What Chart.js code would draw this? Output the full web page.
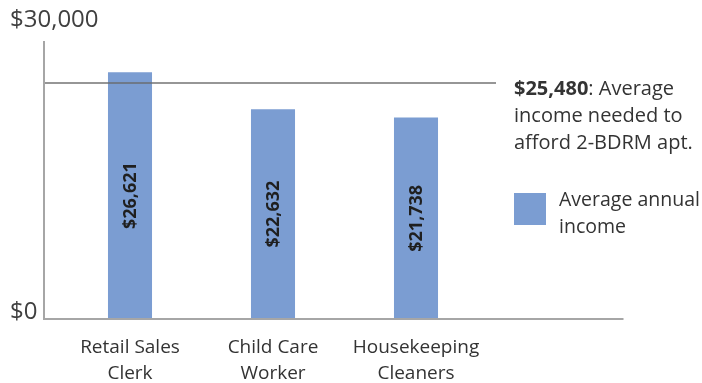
<!DOCTYPE html>
<html>
<head>
<meta charset="utf-8">
<script src="https://cdn.jsdelivr.net/npm/chart.js@4.4.0/dist/chart.umd.min.js"></script>
<style>
  html, body { margin: 0; padding: 0; background: #fff; }
  #wrap { width: 702px; height: 383px; }
</style>
</head>
<body>
<div id="wrap"><canvas id="income_chart"></canvas></div>
<script>
const categories = [["Retail Sales", "Clerk"], ["Child Care", "Worker"], ["Housekeeping", "Cleaners"], ""];
const incomes = [26621, 22632, 21738, null];
const barLabels = ["$26,621", "$22,632", "$21,738"];
const yTickValues = [0, 30000];
const yTickLabels = ["$0", "$30,000"];
const neededIncome = 25480;
const neededLabel = "$25,480";
const neededText = [": Average", "income needed to", "afford 2-BDRM apt."];
const seriesName = ["Average annual", "income"];

const FONT = "'Open Sans', sans-serif";
const BAR_COLOR = "#7b9dd2";
const TEXT = "#333333";

const decorations = {
  id: "decorations",
  afterDatasetsDraw(chart) {
    const ctx = chart.ctx;
    const area = chart.chartArea;
    const y = chart.scales.y;
    const axisX = area.left - 14.5;
    const zeroY = y.getPixelForValue(0);
    const topY = y.getPixelForValue(yTickValues[yTickValues.length - 1]);
    ctx.save();

    // axes
    ctx.strokeStyle = "#a6a6a6";
    ctx.lineWidth = 2;
    ctx.beginPath();
    ctx.moveTo(axisX, topY);
    ctx.lineTo(axisX, zeroY);
    ctx.lineTo(area.right - 7, zeroY);
    ctx.stroke();

    // needed income line
    const refY = y.getPixelForValue(neededIncome);
    ctx.strokeStyle = "rgba(105,105,105,0.7)";
    ctx.beginPath();
    ctx.moveTo(axisX + 1, refY);
    ctx.lineTo(496, refY);
    ctx.stroke();

    // y labels
    const shift = [-7, -21];
    ctx.fillStyle = "#404040";
    ctx.font = "24px " + FONT;
    ctx.textAlign = "left";
    ctx.textBaseline = "middle";
    yTickValues.forEach((v, i) => {
      ctx.fillText(yTickLabels[i], 10, y.getPixelForValue(v) + shift[i]);
    });

    // values inside bars
    const meta = chart.getDatasetMeta(0);
    ctx.fillStyle = "#1f1f1f";
    ctx.font = "bold 18px " + FONT;
    ctx.textAlign = "center";
    meta.data.forEach((el, i) => {
      if (incomes[i] == null) return;
      ctx.save();
      ctx.translate(el.x, (el.y + el.base) / 2);
      ctx.rotate(-Math.PI / 2);
      ctx.fillText(barLabels[i], 0, 1);
      ctx.restore();
    });

    // annotation text
    ctx.fillStyle = TEXT;
    ctx.textAlign = "left";
    ctx.font = "bold 20px " + FONT;
    ctx.fillText(neededLabel, 514, 89);
    const w = ctx.measureText(neededLabel).width;
    ctx.font = "20px " + FONT;
    ctx.fillText(neededText[0], 514 + w, 89);
    ctx.fillText(neededText[1], 514, 116);
    ctx.fillText(neededText[2], 514, 143);

    // legend
    ctx.fillStyle = BAR_COLOR;
    ctx.fillRect(514, 193, 32, 32);
    ctx.fillStyle = TEXT;
    ctx.font = "19.5px " + FONT;
    ctx.fillText(seriesName[0], 559, 200);
    ctx.fillText(seriesName[1], 559, 227);
    ctx.restore();
  }
};

new Chart(document.getElementById("income_chart"), {
  type: "bar",
  data: {
    labels: categories,
    datasets: [
      {
        label: seriesName.join(" "),
        data: incomes,
        backgroundColor: BAR_COLOR,
        categoryPercentage: 1,
        barPercentage: 0.308,
      },
    ],
  },
  options: {
    responsive: true,
    maintainAspectRatio: false,
    animation: false,
    layout: {
      padding: { left: 58.5, right: 71.5, top: 41, bottom: 0 },
    },
    plugins: {
      legend: { display: false },
      tooltip: { enabled: false },
    },
    scales: {
      x: {
        grid: { display: false, drawTicks: false },
        border: { display: false },
        ticks: {
          color: TEXT,
          font: { family: FONT, size: 19, lineHeight: 1.37 },
          padding: 16,
          maxRotation: 0,
          autoSkip: false,
        },
        afterFit(scale) {
          scale.height = 64;
        },
      },
      y: {
        display: false,
        min: 0,
        max: 30000,
      },
    },
  },
  plugins: [decorations],
});
</script>
</body>
</html>
